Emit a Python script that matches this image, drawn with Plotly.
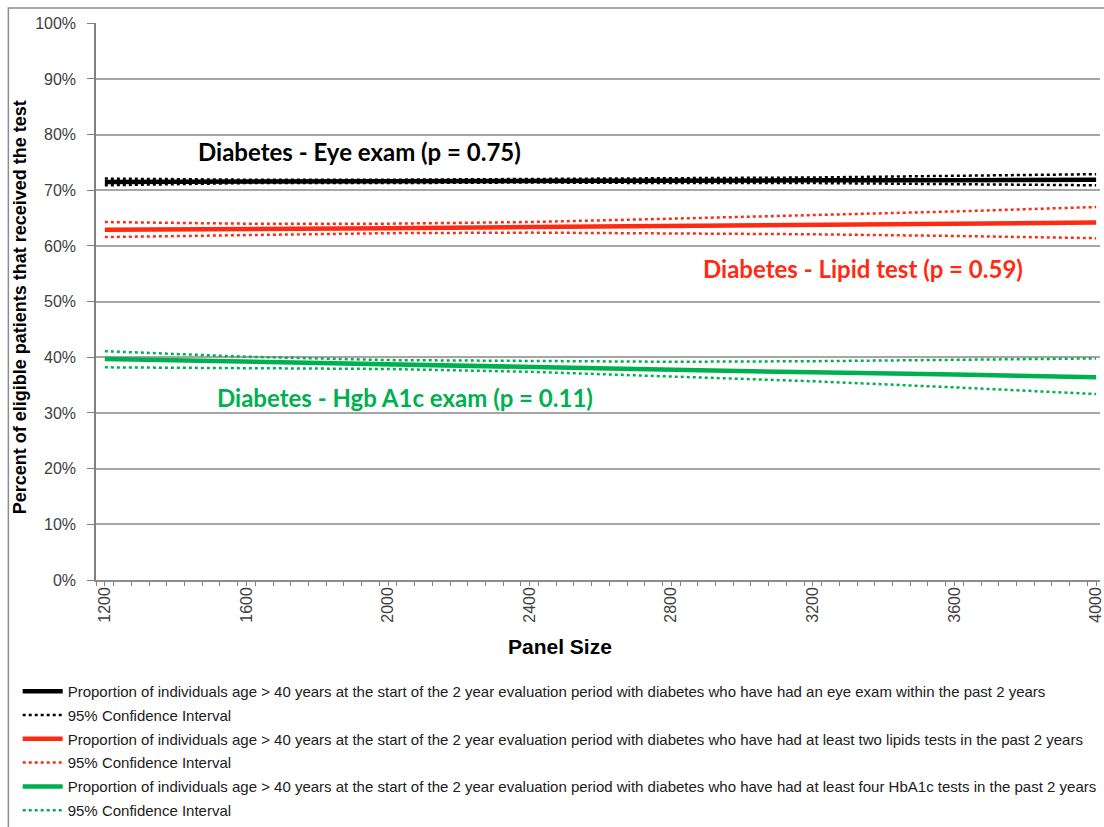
import plotly.graph_objects as go

# Panel size (x) at which the fitted proportions are read
panel_size = [1200, 1600, 2000, 2400, 2800, 3200, 3600, 4000]

# Eye exam: fitted proportion and 95% CI
eye_fit = [0.715, 0.716, 0.716, 0.717, 0.717, 0.718, 0.718, 0.719]
eye_upper = [0.721, 0.719, 0.719, 0.720, 0.721, 0.723, 0.726, 0.729]
eye_lower = [0.709, 0.713, 0.713, 0.714, 0.713, 0.713, 0.711, 0.709]

# Lipid test: fitted proportion and 95% CI
lipid_fit = [0.629, 0.630, 0.632, 0.634, 0.636, 0.638, 0.640, 0.642]
lipid_upper = [0.643, 0.640, 0.640, 0.643, 0.649, 0.655, 0.662, 0.670]
lipid_lower = [0.616, 0.620, 0.623, 0.624, 0.623, 0.621, 0.618, 0.614]

# HbA1c: fitted proportion and 95% CI
a1c_fit = [0.397, 0.392, 0.388, 0.383, 0.378, 0.373, 0.369, 0.364]
a1c_upper = [0.411, 0.401, 0.395, 0.393, 0.392, 0.393, 0.395, 0.398]
a1c_lower = [0.382, 0.381, 0.379, 0.374, 0.366, 0.357, 0.346, 0.334]

legend_main = [
    "Proportion of individuals age > 40 years at the start of the 2 year evaluation period with diabetes who have had an eye exam within the past 2 years",
    "Proportion of individuals age > 40 years at the start of the 2 year evaluation period with diabetes who have had at least two lipids tests in the past 2 years",
    "Proportion of individuals age > 40 years at the start of the 2 year evaluation period with diabetes who have had at least four HbA1c tests in the past 2 years",
]
ci_label = "95% Confidence Interval"

annotation_text = [
    "Diabetes - Eye exam (p = 0.75)",
    "Diabetes - Lipid test (p = 0.59)",
    "Diabetes - Hgb A1c exam (p = 0.11)",
]
annotation_x = [1918, 3342, 2047]
annotation_y = [0.770, 0.560, 0.3285]

x_title = "Panel Size"
y_title = "Percent of eligible patients that received the test"

BLACK = "#000000"
RED = "#ff2a12"
GREEN = "#00b050"

series = [
    (eye_fit, eye_upper, eye_lower, BLACK, legend_main[0]),
    (lipid_fit, lipid_upper, lipid_lower, RED, legend_main[1]),
    (a1c_fit, a1c_upper, a1c_lower, GREEN, legend_main[2]),
]

fig = go.Figure()
for i, (fit, up, lo, color, name) in enumerate(series):
    fig.add_trace(go.Scatter(
        x=panel_size, y=fit, mode="lines", name=name,
        line=dict(color=color, width=4.5),
        legendgroup=f"g{i}a", legendrank=2 * i + 1,
    ))
    fig.add_trace(go.Scatter(
        x=panel_size, y=up, mode="lines", name=ci_label,
        line=dict(color=color, width=2.5, dash="dot"),
        legendgroup=f"g{i}b", legendrank=2 * i + 2,
    ))
    fig.add_trace(go.Scatter(
        x=panel_size, y=lo, mode="lines", name=ci_label,
        line=dict(color=color, width=2.5, dash="dot"),
        legendgroup=f"g{i}b", showlegend=False,
    ))

for txt, ax, ay, color in zip(annotation_text, annotation_x, annotation_y, [BLACK, RED, GREEN]):
    fig.add_annotation(
        x=ax, y=ay, text=f"<b>{txt}</b>", showarrow=False,
        font=dict(family="Lato", size=24, color=color),
        xanchor="center", yanchor="middle",
    )

# Axis titles
fig.add_annotation(
    xref="paper", yref="paper", x=0.462, y=-0.120,
    text=f"<b>{x_title}</b>", showarrow=False,
    font=dict(family="Liberation Sans, Arial", size=21, color="#000000"),
    xanchor="center", yanchor="middle",
)
fig.add_annotation(
    xref="paper", yref="paper", x=-0.0754, y=0.490,
    text=f"<b>{y_title}</b>", showarrow=False, textangle=-90,
    font=dict(family="Liberation Sans, Arial", size=18, color="#000000"),
    xanchor="center", yanchor="middle",
)

# Outer chart frame
fig.add_shape(type="rect", xref="paper", yref="paper",
              x0=-0.0873, x1=1.2, y0=-1.0, y1=1.0269,
              line=dict(color="#8c8c8c", width=1.5), layer="below")

fig.update_layout(
    width=1104, height=827,
    margin=dict(l=96, r=0, t=23, b=247),
    plot_bgcolor="white", paper_bgcolor="white",
    font=dict(family="Liberation Sans, Arial", color="#404040"),
    showlegend=True,
    legend=dict(
        x=-0.078, y=-0.1705, xanchor="left", yanchor="top",
        orientation="v", traceorder="grouped", tracegroupgap=1.3,
        font=dict(family="Liberation Sans, Arial", size=15, color="#202020"),
        bgcolor="rgba(0,0,0,0)", itemwidth=40,
    ),
    xaxis=dict(
        range=[1175, 4011],
        tickmode="array", tickvals=panel_size,
        ticktext=[str(v) for v in panel_size],
        tickangle=-90, ticks="outside", ticklen=4, tickcolor="#808080",
        ticklabeloverflow="allow", ticklabelstandoff=-5,
        minor=dict(dtick=50, tick0=1175, ticks="outside", ticklen=4, tickcolor="#808080"),
        showgrid=False, zeroline=False,
        showline=True, linecolor="#8c8c8c", linewidth=1.5,
        tickfont=dict(size=16, color="#404040"),
    ),
    yaxis=dict(
        range=[0, 1.0005], dtick=0.1, tickformat=".0%",
        ticks="outside", ticklen=7, tickcolor="#808080",
        ticklabelstandoff=8,
        showgrid=True, gridcolor="#a6a6a6", gridwidth=1.5,
        zeroline=False,
        showline=True, linecolor="#808080", linewidth=1.5,
        tickfont=dict(size=16, color="#404040"),
    ),
)

fig.write_html("out.html")
